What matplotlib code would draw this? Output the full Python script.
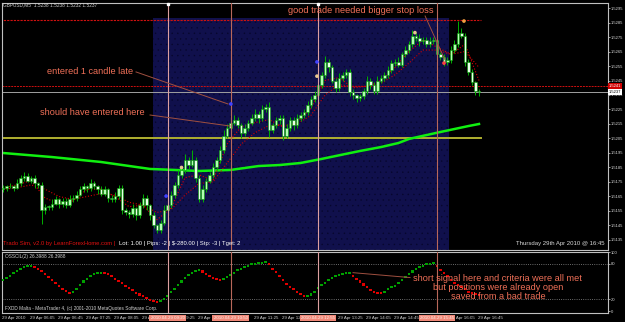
import matplotlib.pyplot as plt
import numpy as np
from matplotlib.patches import Rectangle
from matplotlib.transforms import blended_transform_factory

plt.rcParams['font.family'] = ['Liberation Sans', 'DejaVu Sans']
plt.rcParams['hatch.linewidth'] = 0.25

# ---- data (GBPUSD M5, 29 Apr 2010, 05:25 .. 16:45) ----
first_open = 1.5170
close = [1.5171, 1.5172, 1.5172, 1.5171, 1.5174, 1.5178, 1.5179, 1.5176, 1.5178, 1.5174,
         1.5173, 1.5156, 1.5158, 1.5158, 1.5160, 1.5163, 1.5160, 1.5162, 1.5159, 1.5163,
         1.5164, 1.5166, 1.5170, 1.5172, 1.5171, 1.5174, 1.5172, 1.5170, 1.5167, 1.5170,
         1.5164, 1.5163, 1.5165, 1.5171, 1.5156, 1.5154, 1.5153, 1.5157, 1.5152, 1.5159,
         1.5164, 1.5159, 1.5152, 1.5145, 1.5142, 1.5147, 1.5156, 1.5159, 1.5166, 1.5173,
         1.5180, 1.5183, 1.5190, 1.5187, 1.5190, 1.5178, 1.5163, 1.5170, 1.5176, 1.5180,
         1.5185, 1.5190, 1.5197, 1.5207, 1.5212, 1.5216, 1.5218, 1.5214, 1.5209, 1.5212,
         1.5216, 1.5219, 1.5222, 1.5219, 1.5225, 1.5227, 1.5211, 1.5214, 1.5218, 1.5219,
         1.5207, 1.5212, 1.5218, 1.5214, 1.5219, 1.5221, 1.5223, 1.5228, 1.5232, 1.5235,
         1.5242, 1.5249, 1.5258, 1.5254, 1.5245, 1.5240, 1.5247, 1.5249, 1.5251, 1.5237,
         1.5235, 1.5233, 1.5234, 1.5238, 1.5245, 1.5242, 1.5238, 1.5245, 1.5247, 1.5249,
         1.5252, 1.5257, 1.5258, 1.5256, 1.5263, 1.5266, 1.5270, 1.5276, 1.5274, 1.5272,
         1.5273, 1.5270, 1.5272, 1.5273, 1.5263, 1.5261, 1.5258, 1.5259, 1.5266, 1.5270,
         1.5278, 1.5276, 1.5258, 1.5251, 1.5244, 1.5238, 1.5237]
# wick length beyond the body, in pips
wick_hi = [2, 1, 2, 1, 3, 2, 3, 2, 1, 2,
           1, 2, 2, 1, 3, 2, 1, 2, 2, 3,
           2, 3, 2, 2, 1, 3, 2, 1, 2, 2,
           1, 2, 3, 2, 2, 1, 2, 3, 1, 2,
           3, 2, 1, 2, 1, 2, 3, 2, 3, 2,
           3, 2, 4, 2, 7, 2, 2, 3, 2, 2,
           3, 2, 3, 4, 3, 2, 3, 2, 2, 3,
           2, 3, 3, 2, 3, 2, 3, 2, 2, 2,
           2, 3, 2, 2, 3, 2, 2, 3, 2, 3,
           3, 2, 4, 2, 2, 2, 3, 2, 2, 2,
           2, 1, 2, 2, 3, 2, 2, 3, 2, 2,
           3, 2, 2, 3, 2, 3, 2, 4, 2, 3,
           2, 2, 3, 2, 2, 2, 2, 2, 3, 3,
           8, 3, 2, 2, 2, 1, 1]
wick_lo = [2, 2, 1, 2, 1, 2, 2, 1, 2, 3,
           2, 10, 3, 2, 2, 1, 3, 2, 2, 1,
           2, 2, 1, 2, 3, 2, 2, 3, 2, 2,
           3, 2, 2, 2, 3, 2, 3, 2, 3, 2,
           2, 3, 3, 2, 2, 2, 2, 2, 2, 2,
           2, 2, 2, 3, 2, 3, 2, 2, 2, 2,
           2, 2, 2, 2, 2, 3, 2, 2, 4, 2,
           2, 2, 2, 3, 2, 2, 5, 2, 2, 3,
           3, 2, 2, 3, 2, 2, 2, 2, 2, 2,
           2, 2, 2, 3, 2, 3, 2, 2, 2, 3,
           3, 3, 2, 2, 2, 3, 2, 2, 2, 2,
           2, 2, 2, 2, 2, 2, 2, 2, 2, 3,
           2, 2, 2, 2, 3, 2, 3, 2, 2, 2,
           2, 2, 3, 2, 2, 3, 3]

ma_bars = list(range(0, 137, 4))
ma_fast = [1.5171, 1.5173, 1.5176, 1.5164, 1.5160, 1.5162, 1.5170, 1.5170, 1.5165, 1.5158,
           1.5159, 1.5149, 1.5157, 1.5178, 1.5180, 1.5176, 1.5201, 1.5213, 1.5216, 1.5218,
           1.5213, 1.5216, 1.5226, 1.5245, 1.5247, 1.5240, 1.5241, 1.5245, 1.5254, 1.5265,
           1.5273, 1.5268, 1.5263, 1.5270, 1.5245]
ma_slow = [1.5170, 1.5171, 1.5173, 1.5170, 1.5165, 1.5163, 1.5165, 1.5167, 1.5166, 1.5161,
           1.5159, 1.5154, 1.5156, 1.5166, 1.5174, 1.5175, 1.5188, 1.5201, 1.5209, 1.5214,
           1.5214, 1.5215, 1.5221, 1.5235, 1.5242, 1.5241, 1.5241, 1.5243, 1.5249, 1.5257,
           1.5266, 1.5266, 1.5263, 1.5265, 1.5254]
ma200_bars = [0, 14, 28, 42, 56, 65, 73, 79, 85, 91, 102, 108, 113, 116, 125, 133, 136]
ma200 = [1.51950, 1.51922, 1.51888, 1.51840, 1.51826, 1.51833, 1.51860, 1.51867, 1.51881,
         1.51909, 1.51964, 1.51991, 1.52019, 1.52047, 1.52095, 1.52136, 1.52150]

# oscillator (0..100)
osc_vals = [52, 56, 60, 64, 68, 71, 74, 76, 77,
            75, 72, 68, 63, 58, 53, 48, 43, 38, 34, 30,
            33, 38, 44, 50, 55, 59, 62, 64, 65,
            64, 62, 59, 55, 51, 47, 43, 39, 35, 31, 28, 25, 22, 19, 17, 15,
            17, 21, 26, 32, 38, 44, 50, 56, 61, 65, 68, 70,
            67, 63, 59, 56, 54, 53,
            55, 58, 61, 65, 69, 72, 75, 77, 79, 80, 81, 82, 83,
            80, 72, 66, 60, 53, 46, 41, 37, 33, 29, 25,
            26, 28, 33, 39, 44, 48, 52, 56, 59, 61, 63, 64, 65,
            60, 55, 50, 45, 40, 36, 33, 31, 30,
            33, 37, 40, 43, 48, 53, 58, 63, 67, 71, 74, 77, 79, 80, 81,
            76, 70, 65, 59, 53, 48, 44, 40, 37, 33, 31, 29, 27]

# horizontal levels
stop_level = 1.52867
entry_level = 1.52053
ask, bid = 1.5241, 1.5237

# vertical event lines (bar index) and their labels
event_bars = [47, 65, 90, 124]
event_labels = ['2010.04.29 09:20', '2010.04.29 10:50', '2010.04.29 12:55', '2010.04.29 15:45']
event_colors = ['#dca0a0', '#b8685a', '#dca0a0', '#b8685a']

# time labels that stay (partly) visible next to the event labels
time_bars = [8, 16, 24, 32, 40, 48, 56, 72, 80, 96, 104, 112, 128, 136]
time_labels = ['29 Apr 06:05', '29 Apr 06:45', '29 Apr 07:25', '29 Apr 08:05', '29 Apr 08:45',
               '29 Apr 09:25', '29 Apr 10:05', '29 Apr 11:25', '29 Apr 12:05',
               '29 Apr 13:25', '29 Apr 14:05', '29 Apr 14:45', '29 Apr 16:05', '29 Apr 16:45']

# trade markers
mark_bars = [46.6, 65.1, 89.7, 51.0, 89.7, 117.7, 126.0, 131.7]
mark_prices = [1.51653, 1.52288, 1.52578, 1.5185, 1.5248, 1.5278, 1.5257, 1.5286]
mark_colors = ['#4040ff', '#4040ff', '#4040ff', '#e8c890', '#e8c890', '#e8c890', '#ff4040', '#f0a040']

# ---- figure ----
W, H = 625, 322
fig = plt.figure(figsize=(W / 100, H / 100), dpi=100, facecolor='black')


def box(x0, y0, x1, y1):
    return [x0 / W, 1 - y1 / H, (x1 - x0) / W, (y1 - y0) / H]


ax = fig.add_axes(box(2, 3, 608, 250))
osc = fig.add_axes(box(2, 252, 608, 313))
grey = '#c0c0c0'
for a in (ax, osc):
    a.set_facecolor('black')
    for s in a.spines.values():
        s.set_color(grey)
        s.set_linewidth(0.8)
    a.set_xlim(-0.29, 172.86)
    a.set_xticks([])
    a.yaxis.tick_right()
    a.tick_params(axis='y', colors='#d8d8d8', labelsize=3.0, length=1.5, width=0.5, pad=0.6)

ax.set_ylim(1.51281, 1.529845)
ticks = [1.5135 + 0.001 * k for k in range(17)]
ax.set_yticks(ticks)
ax.set_yticklabels([f'{t:.4f}' for t in ticks])

bars = np.arange(len(close))
opens = [first_open] + close[:-1]

# background rectangle of the trading session
ax.add_patch(Rectangle((42.9, 1.5100), 84.5, 1.52881 - 1.5100, facecolor='#10104c',
                       edgecolor='#06062a', lw=0, hatch='...', zorder=0))

# levels
ax.plot([-1, 136.5], [stop_level, stop_level], color='#d01010', ls=(0, (2, 1)), lw=0.8, zorder=1)
ax.plot([-1, 136.5], [entry_level, entry_level], color='#b0b030', lw=1.4, zorder=1)
ax.axhline(ask, color='#d01010', ls=(0, (2, 1)), lw=0.7, zorder=1)
ax.axhline(bid, color='#a0a0a0', lw=0.7, zorder=1)

# moving averages
ax.plot(ma200_bars, ma200, color='#10f010', lw=1.8, zorder=2)
ax.plot(ma_bars, ma_slow, color='#d00000', ls=':', lw=0.8, zorder=2)
ax.plot(ma_bars, ma_fast, color='#e00000', ls=':', lw=0.8, zorder=2)

# candles
for i in bars:
    o, c = opens[i], close[i]
    top, bot = max(o, c), min(o, c)
    hi = top + wick_hi[i] * 1e-4
    lo = bot - wick_lo[i] * 1e-4
    ax.vlines(i, lo, hi, color='#00b000', lw=0.7, zorder=3)
    fill = '#b0ffb0' if c >= o else '#e8ffe8'
    ax.bar(i, max(top - bot, 0.00005), bottom=bot, width=0.6, color=fill,
           edgecolor='#00a000', lw=0.4, zorder=4)

ax.scatter(mark_bars, mark_prices, s=7, c=mark_colors, zorder=6, linewidths=0)

# event lines through both panes
for b, col in zip(event_bars, event_colors):
    ax.axvline(b, color=col, lw=0.8, zorder=5)
    osc.axvline(b, color=col, lw=0.8, zorder=5)
ax.plot([47, 90], [1.52975, 1.52975], 's', color='white', ms=1.8, clip_on=False, zorder=7)

# right-side price boxes
tr = blended_transform_factory(ax.transAxes, ax.transData)
ax.text(1.002, ask, f'{ask:.4f}', transform=tr, fontsize=3.0, color='white', va='center',
        bbox=dict(facecolor='#d00000', edgecolor='none', pad=0.6), zorder=9, clip_on=False)
ax.text(1.002, bid, f'{bid:.4f}', transform=tr, fontsize=3.0, color='black', va='center',
        bbox=dict(facecolor='white', edgecolor='none', pad=0.6), zorder=9, clip_on=False)

# annotations
salmon = '#f07058'
ax.text(12.6, 1.52509, 'entered 1 candle late', color=salmon, fontsize=6.6, va='center', zorder=8)
ax.plot([38.0, 64.3], [1.52509, 1.52288], color='#a05040', lw=0.7, zorder=8)
ax.text(10.6, 1.52226, 'should have entered here', color=salmon, fontsize=6.6, va='center', zorder=8)
ax.plot([42.0, 64.9], [1.52212, 1.52136], color='#a05040', lw=0.7, zorder=8)
ax.text(81.4, 1.52936, 'good trade needed bigger stop loss', color=salmon, fontsize=6.7,
        va='center', zorder=8)
ax.plot([120.6, 126.3], [1.52895, 1.52591], color='#a05040', lw=0.7, zorder=8)

fig.text(3 / W, 1 - 4.5 / H, 'GBPUSD,M5  1.5238 1.5238 1.5232 1.5237', color='#d0d0d0',
         fontsize=3.4, va='center')
fig.text(3 / W, 1 - 243 / H, 'Trado Sim, v2.0 by LearnForexHome.com |', color='#e01010',
         fontsize=4.2, va='center')
fig.text(119 / W, 1 - 243 / H, 'Lot: 1.00 | Pips: -2 | $-280.00 | Stp: -3 | Tget: 2',
         color='white', fontsize=4.2, va='center')
fig.text(605 / W, 1 - 244 / H, 'Thursday 29th Apr 2010 @ 16:45', color='#d8d8d8',
         fontsize=4.3, va='center', ha='right')

# oscillator pane
osc.set_ylim(-3.3, 100)
osc.set_yticks([0, 20, 80, 100])
osc.axhline(80, color='#909090', ls=':', lw=0.6)
osc.axhline(20, color='#909090', ls=':', lw=0.6)
diff = np.diff(osc_vals, prepend=osc_vals[0] - 1)
dot_colors = ['#00a000' if d >= 0 else '#e00000' for d in diff]
osc.scatter(bars, osc_vals, s=2.2, marker='s', c=dot_colors, linewidths=0, zorder=3)
osc.text(3 / 606, 0.96, 'OSSCIL(2) 26.3988 26.3988', transform=osc.transAxes,
         color='#d0d0d0', fontsize=3.4, va='top')
osc.text(3 / 606, 0.03, 'FXDD Malta - MetaTrader 4, (c) 2001-2010 MetaQuotes Software Corp.',
         transform=osc.transAxes, color='#d0d0d0', fontsize=3.4, va='bottom')
osc.plot([100, 116.3], [65, 56.7], color='#a05040', lw=0.7, zorder=4)
for txt, v in [('short signal here and criteria were all met', 55.8),
               ('but positions were already open', 40),
               ('saved from a bad trade', 25)]:
    osc.text(141.4, v, txt, color=salmon, fontsize=6.6, ha='center', va='center', zorder=6)

# time axis
ttr = blended_transform_factory(osc.transData, osc.transAxes)
osc.text(-0.3, -0.08, '29 Apr 2010', transform=ttr, color='#d0d0d0', fontsize=3.2,
         va='center', clip_on=False)
for b, lab in zip(time_bars, time_labels):
    osc.text(b - 0.3, -0.08, lab, transform=ttr, color='#d0d0d0', fontsize=3.2,
             va='center', clip_on=False)
for b, lab in zip(event_bars, event_labels):
    osc.text(b, -0.08, lab, transform=ttr, color='#fff0ea', fontsize=3.2, ha='center',
             va='center', clip_on=False, zorder=9,
             bbox=dict(facecolor='#f08878', edgecolor='none', pad=0.8))

fig.savefig('out.png', dpi=100, facecolor='black')
